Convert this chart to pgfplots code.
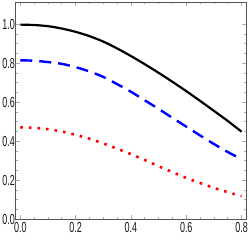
\documentclass[border=0pt]{standalone}
\usepackage{fontspec}
\setmainfont{Liberation Sans}[FakeStretch=0.62]
\usepackage{pgfplots}
\pgfplotsset{compat=1.18}
\usetikzlibrary{calc}
\definecolor{framegray}{HTML}{555555}
\definecolor{tickgray}{HTML}{AAAAAA}
\definecolor{mblue}{RGB}{0,0,255}
\definecolor{mred}{RGB}{255,0,0}
\begin{document}
\begin{tikzpicture}
\begin{axis}[
  name=ax,
  scale only axis,
  width=230.3pt, height=217.3pt,
  xmin=-0.0165, xmax=0.816,
  ymin=0, ymax=1.114,
  xtick={0,0.2,0.4,0.6,0.8},
  ytick={0,0.2,0.4,0.6,0.8,1.0},
  minor x tick num=3,
  minor y tick num=3,
  tick align=inside,
  major tick length=4pt,
  minor tick length=2.5pt,
  axis line style={framegray, line width=0.8pt},
  tick style={tickgray, line width=0.6pt},
  /pgf/number format/assume math mode=true,
  /pgf/number format/fixed,
  /pgf/number format/fixed zerofill,
  /pgf/number format/precision=1,
  tick label style={font=\fontsize{14.5}{14.5}\selectfont, text=black!90},
  yticklabel style={inner sep=0pt, xshift=-0.6pt},
  xticklabel style={inner sep=0pt, yshift=-3pt},
  clip=false,
]
\addplot[black, line width=2.2pt, smooth] coordinates {
(0,0.998) (0.05,0.996) (0.1,0.990) (0.15,0.978) (0.2,0.961) (0.25,0.939)
(0.3,0.911) (0.35,0.876) (0.4,0.837) (0.45,0.795) (0.5,0.751) (0.55,0.705)
(0.6,0.657) (0.65,0.607) (0.7,0.556) (0.75,0.504) (0.8,0.449)};
\addplot[mblue, line width=2.4pt, smooth, dash pattern=on 12pt off 7pt] coordinates {
(0,0.815) (0.05,0.813) (0.1,0.806) (0.15,0.797) (0.2,0.780) (0.25,0.758)
(0.3,0.730) (0.35,0.693) (0.4,0.654) (0.45,0.610) (0.5,0.566) (0.55,0.520)
(0.6,0.475) (0.65,0.430) (0.7,0.386) (0.75,0.345) (0.8,0.308)};
\addplot[mred, line width=2.6pt, smooth, dash pattern=on 2.6pt off 6pt] coordinates {
(0,0.472) (0.05,0.469) (0.1,0.462) (0.15,0.450) (0.2,0.433) (0.25,0.413)
(0.3,0.389) (0.35,0.362) (0.4,0.334) (0.45,0.304) (0.5,0.272) (0.55,0.242)
(0.6,0.212) (0.65,0.186) (0.7,0.161) (0.75,0.139) (0.8,0.119)};
\end{axis}
\pgfresetboundingbox
\path ($(ax.south west)+(-15.7pt,-20.7pt)$) rectangle ($(ax.north east)+(3pt,2pt)$);
\end{tikzpicture}
\end{document}
